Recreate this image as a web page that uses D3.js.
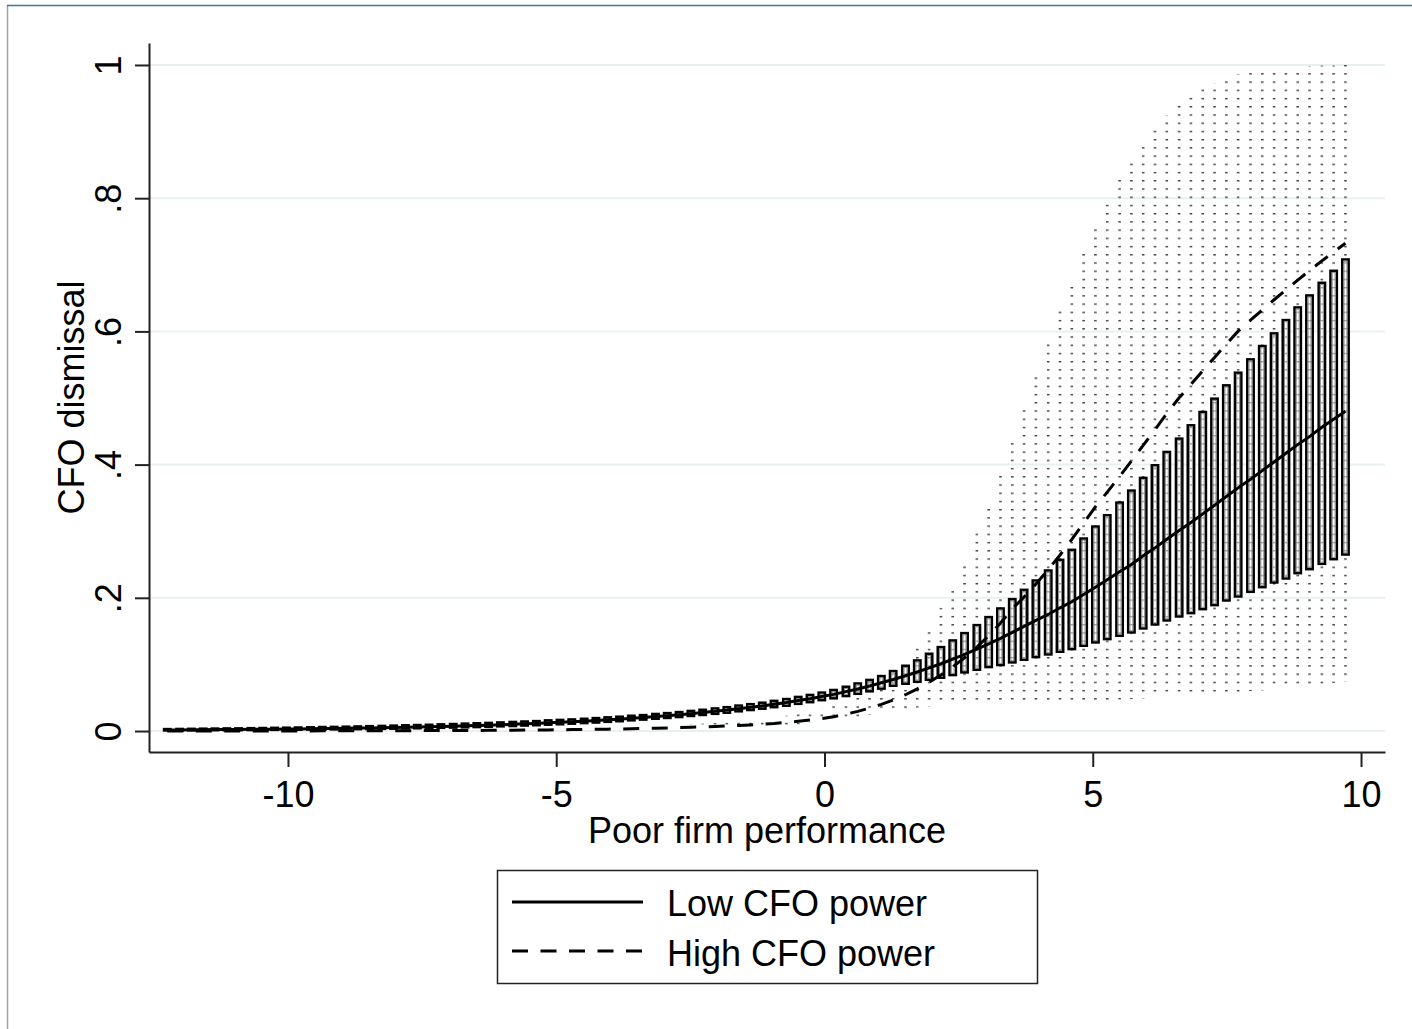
<!DOCTYPE html>
<html>
<head>
<meta charset="utf-8">
<title>CFO dismissal</title>
<script src="https://cdnjs.cloudflare.com/ajax/libs/d3/7.8.5/d3.min.js"></script>
<style>
  body { margin: 0; background: #fff; }
  text { font-family: "Liberation Sans", Arial, sans-serif; }
</style>
</head>
<body>
<svg id="chart" width="1412" height="1029"></svg>
<script>
// at() values of poor firm performance
const perf = [
  -12.25, -12.02, -11.80, -11.58, -11.36, -11.14, -10.92, -10.69, -10.47, -10.25,
  -10.03, -9.81, -9.58, -9.36, -9.14, -8.92, -8.70, -8.48, -8.25, -8.03,
  -7.81, -7.59, -7.37, -7.15, -6.92, -6.70, -6.48, -6.26, -6.04, -5.81,
  -5.59, -5.37, -5.15, -4.93, -4.71, -4.48, -4.26, -4.04, -3.82, -3.60,
  -3.38, -3.15, -2.93, -2.71, -2.49, -2.27, -2.04, -1.82, -1.60, -1.38,
  -1.16, -0.94, -0.71, -0.49, -0.27, -0.05, 0.17, 0.40, 0.62, 0.84,
  1.06, 1.28, 1.51, 1.73, 1.95, 2.17, 2.39, 2.61, 2.84, 3.06,
  3.28, 3.50, 3.72, 3.94, 4.17, 4.39, 4.61, 4.83, 5.05, 5.27,
  5.50, 5.72, 5.94, 6.16, 6.38, 6.61, 6.83, 7.05, 7.27, 7.49,
  7.71, 7.94, 8.16, 8.38, 8.60, 8.82, 9.04, 9.27, 9.49, 9.71
];

// Low CFO power: prediction and CI (bars)
const lowMean = [
  0.0016, 0.0017, 0.0018, 0.0019, 0.0021, 0.0022, 0.0023, 0.0025, 0.0026, 0.0028,
  0.0030, 0.0032, 0.0034, 0.0037, 0.0039, 0.0041, 0.0044, 0.0047, 0.0050, 0.0053,
  0.0057, 0.0061, 0.0064, 0.0069, 0.0073, 0.0078, 0.0083, 0.0088, 0.0095, 0.0101,
  0.0108, 0.0114, 0.0123, 0.0130, 0.0138, 0.0148, 0.0157, 0.0168, 0.0178, 0.0191,
  0.0202, 0.0217, 0.0230, 0.0244, 0.0261, 0.0277, 0.0296, 0.0314, 0.0336, 0.0356,
  0.0377, 0.0403, 0.0427, 0.0457, 0.0484, 0.0517, 0.0550, 0.0591, 0.0632, 0.0676,
  0.0724, 0.0773, 0.0829, 0.0886, 0.0947, 0.1010, 0.1078, 0.1150, 0.1228, 0.1309,
  0.139, 0.148, 0.157, 0.166, 0.175, 0.185, 0.194, 0.205, 0.216, 0.227,
  0.239, 0.250, 0.263, 0.275, 0.288, 0.301, 0.313, 0.326, 0.339, 0.352,
  0.365, 0.378, 0.391, 0.404, 0.417, 0.430, 0.442, 0.456, 0.468, 0.480
];
const lowLo = [
  0.0009, 0.0009, 0.0010, 0.0011, 0.0012, 0.0012, 0.0013, 0.0014, 0.0015, 0.0017,
  0.0018, 0.0019, 0.0021, 0.0022, 0.0024, 0.0026, 0.0028, 0.0030, 0.0033, 0.0035,
  0.0038, 0.0041, 0.0044, 0.0048, 0.0051, 0.0055, 0.0059, 0.0064, 0.0070, 0.0075,
  0.0082, 0.0087, 0.0095, 0.0101, 0.0110, 0.0119, 0.0127, 0.0138, 0.0147, 0.0160,
  0.0171, 0.0184, 0.0196, 0.0210, 0.0226, 0.0241, 0.0258, 0.0275, 0.0296, 0.0315,
  0.0335, 0.0358, 0.0380, 0.0408, 0.0433, 0.0463, 0.0491, 0.0525, 0.0559, 0.0596,
  0.0636, 0.068, 0.071, 0.074, 0.077, 0.080, 0.084, 0.088, 0.092, 0.096,
  0.099, 0.103, 0.107, 0.111, 0.115, 0.119, 0.123, 0.128, 0.133, 0.138,
  0.143, 0.148, 0.154, 0.160, 0.166, 0.172, 0.177, 0.183, 0.189, 0.196,
  0.202, 0.209, 0.216, 0.223, 0.229, 0.237, 0.243, 0.251, 0.258, 0.265
];
const lowHi = [
  0.0029, 0.0031, 0.0033, 0.0035, 0.0037, 0.0039, 0.0040, 0.0043, 0.0045, 0.0048,
  0.0050, 0.0053, 0.0056, 0.0060, 0.0062, 0.0065, 0.0069, 0.0073, 0.0077, 0.0081,
  0.0086, 0.0090, 0.0094, 0.0100, 0.0105, 0.0111, 0.0117, 0.0122, 0.0129, 0.0136,
  0.0143, 0.0149, 0.0160, 0.0167, 0.0174, 0.0184, 0.0194, 0.0205, 0.0215, 0.0229,
  0.0239, 0.0256, 0.0269, 0.0284, 0.0302, 0.0319, 0.0339, 0.0358, 0.0382, 0.0403,
  0.0425, 0.0453, 0.0480, 0.0512, 0.0542, 0.0577, 0.0616, 0.0665, 0.0714, 0.0767,
  0.0825, 0.090, 0.098, 0.106, 0.116, 0.126, 0.136, 0.147, 0.159, 0.171,
  0.184, 0.198, 0.212, 0.226, 0.241, 0.257, 0.272, 0.289, 0.307, 0.324,
  0.343, 0.361, 0.380, 0.399, 0.419, 0.439, 0.459, 0.479, 0.499, 0.519,
  0.538, 0.558, 0.578, 0.597, 0.617, 0.636, 0.654, 0.673, 0.691, 0.708
];

// High CFO power: prediction and CI (dotted area)
const highMean = [
  0.0001, 0.0001, 0.0001, 0.0001, 0.0001, 0.0001, 0.0001, 0.0001, 0.0002, 0.0002,
  0.0002, 0.0002, 0.0002, 0.0003, 0.0003, 0.0003, 0.0003, 0.0004, 0.0004, 0.0005,
  0.0005, 0.0006, 0.0006, 0.0007, 0.0008, 0.0009, 0.0009, 0.0010, 0.0012, 0.0013,
  0.0014, 0.0015, 0.0017, 0.0019, 0.0021, 0.0023, 0.0026, 0.0028, 0.0031, 0.0034,
  0.0038, 0.0042, 0.0046, 0.0051, 0.0056, 0.0062, 0.0069, 0.0076, 0.0084, 0.0092,
  0.0102, 0.0113, 0.0129, 0.0145, 0.0164, 0.0186, 0.0215, 0.0253, 0.0295, 0.0344,
  0.0400, 0.0466, 0.0545, 0.0633, 0.0734, 0.0842, 0.0963, 0.1100, 0.1259, 0.1431,
  0.1621, 0.1832, 0.2013, 0.2206, 0.2423, 0.2643, 0.2876, 0.3121, 0.3367, 0.3587,
  0.3822, 0.4054, 0.4290, 0.4526, 0.4768, 0.5003, 0.5205, 0.5409, 0.5609, 0.5808,
  0.6004, 0.6168, 0.6323, 0.6475, 0.6624, 0.6770, 0.6913, 0.7058, 0.7193, 0.7324
];
const highLo = [
  0, 0, 0, 0, 0, 0, 0, 0, 0, 0,
  0, 0, 0, 0, 0, 0, 0, 0, 0, 0,
  0, 0, 0, 0, 0, 0, 0, 0, 0, 0,
  0, 0, 0, 0, 0, 0, 0, 0, 0, 0,
  0, 0, 0, 0, 0, 0, 0.001, 0.002, 0.003, 0.004,
  0.005, 0.006, 0.008, 0.010, 0.012, 0.014, 0.016, 0.018, 0.021, 0.024,
  0.027, 0.030, 0.033, 0.035, 0.037, 0.039, 0.041, 0.042, 0.043, 0.044,
  0.044, 0.044, 0.044, 0.043, 0.042, 0.042, 0.043, 0.044, 0.045, 0.046,
  0.047, 0.048, 0.049, 0.050, 0.051, 0.052, 0.053, 0.054, 0.055, 0.057,
  0.058, 0.060, 0.061, 0.063, 0.065, 0.066, 0.068, 0.070, 0.072, 0.074
];
const highHi = [
  0.0003, 0.0003, 0.0003, 0.0003, 0.0004, 0.0004, 0.0004, 0.0005, 0.0005, 0.0006,
  0.0006, 0.0007, 0.0007, 0.0008, 0.0009, 0.0009, 0.0010, 0.0011, 0.0012, 0.0013,
  0.0014, 0.0016, 0.0017, 0.0019, 0.0020, 0.0022, 0.0024, 0.0026, 0.0029, 0.0031,
  0.0034, 0.0036, 0.0039, 0.0042, 0.0045, 0.0048, 0.0051, 0.0054, 0.0057, 0.0059,
  0.006, 0.007, 0.008, 0.009, 0.010, 0.011, 0.012, 0.013, 0.015, 0.016,
  0.018, 0.020, 0.023, 0.026, 0.030, 0.034, 0.039, 0.045, 0.053, 0.064,
  0.077, 0.090, 0.106, 0.127, 0.154, 0.185, 0.214, 0.254, 0.297, 0.340,
  0.389, 0.438, 0.487, 0.537, 0.586, 0.632, 0.675, 0.718, 0.758, 0.794,
  0.828, 0.857, 0.883, 0.906, 0.924, 0.941, 0.955, 0.966, 0.973, 0.980,
  0.986, 0.989, 0.992, 0.994, 0.996, 0.997, 0.998, 0.999, 0.999, 1.000
];

const yTicks = [0, 0.2, 0.4, 0.6, 0.8, 1];
const yTickLabels = ['0', '.2', '.4', '.6', '.8', '1'];
const xTicks = [-10, -5, 0, 5, 10];
const legendLabels = ['Low CFO power', 'High CFO power'];

const svg = d3.select('#chart');
const FONT = 36;
const LINE_W = 3;

const x = d3.scaleLinear().domain([-12.59, 10.447]).range([149, 1385]);
const y = d3.scaleLinear().domain([-0.0315, 1.033]).range([752, 43]);

// one record per at() point, so the index stays attached after filtering
const pts = perf.map((p, i) => ({
  p, lm: lowMean[i], ll: lowLo[i], lh: lowHi[i],
  hm: highMean[i], hl: highLo[i], hh: highHi[i]
}));

// outer frame (left / top edges)
svg.append('line').attr('x1', 7.5).attr('x2', 7.5).attr('y1', 5).attr('y2', 1029)
  .attr('stroke', '#a3a3a3').attr('stroke-width', 1.5);
svg.append('line').attr('x1', 7).attr('x2', 1412).attr('y1', 5.5).attr('y2', 5.5)
  .attr('stroke', '#45719e').attr('stroke-width', 1.5);

// patterns
const defs = svg.append('defs');
const rowGap = (y(0) - y(1)) / 81;
const dots = defs.append('pattern').attr('id', 'dots')
  .attr('patternUnits', 'userSpaceOnUse')
  .attr('x', 0).attr('y', y(1)).attr('width', 20).attr('height', rowGap);
dots.append('rect').attr('width', 20).attr('height', 1.4).attr('fill', '#404040');

const barfill = defs.append('pattern').attr('id', 'barfill')
  .attr('patternUnits', 'userSpaceOnUse')
  .attr('x', 0).attr('y', y(1)).attr('width', 20).attr('height', rowGap);
barfill.append('rect').attr('width', 20).attr('height', rowGap).attr('fill', '#fff');
barfill.append('rect').attr('width', 20).attr('height', 1.3).attr('fill', '#9a9a9a');

// gridlines
svg.append('g').selectAll('line').data(yTicks).join('line')
  .attr('x1', 149).attr('x2', 1385)
  .attr('y1', d => y(d)).attr('y2', d => y(d))
  .attr('stroke', '#e9f0f2').attr('stroke-width', 2);

// High CFO power CI: dotted columns
svg.append('g').selectAll('rect').data(pts).join('rect')
  .attr('x', d => x(d.p) - 1.3).attr('width', 2.6)
  .attr('y', d => y(d.hh))
  .attr('height', d => Math.max(0, y(d.hl) - y(d.hh)))
  .attr('fill', 'url(#dots)');

// Low CFO power CI: bars
const bars = svg.append('g').selectAll('g').data(pts).join('g');
bars.append('rect')
  .attr('x', d => x(d.p) - 3.2).attr('width', 6.4)
  .attr('y', d => y(d.lh))
  .attr('height', d => y(d.ll) - y(d.lh))
  .attr('fill', 'url(#barfill)')
  .attr('stroke', '#000').attr('stroke-width', 2.5);
bars.filter(d => y(d.ll) - y(d.lh) > 4).append('rect')
  .attr('x', d => x(d.p) - 1.45).attr('width', 2.9)
  .attr('y', d => y(d.lh) + 1.75)
  .attr('height', d => y(d.ll) - y(d.lh) - 3.5)
  .attr('fill', 'none')
  .attr('stroke', '#8c8c8c').attr('stroke-width', 1);

// prediction lines
const lineOf = key => d3.line().x(d => x(d.p)).y(d => y(d[key]))(pts);
svg.append('path').attr('d', lineOf('lm'))
  .attr('fill', 'none').attr('stroke', '#000').attr('stroke-width', LINE_W);
svg.append('path').attr('d', lineOf('hm'))
  .attr('fill', 'none').attr('stroke', '#000').attr('stroke-width', LINE_W)
  .attr('stroke-dasharray', '16,12.5');

// axes
const yAxis = svg.append('g').attr('transform', 'translate(149,0)')
  .call(d3.axisLeft(y).tickValues(yTicks).tickSize(14).tickSizeOuter(0)
    .tickFormat((d, i) => yTickLabels[i]));
yAxis.attr('font-size', FONT).attr('font-family', '"Liberation Sans", Arial, sans-serif').attr('color', '#000');
yAxis.select('.domain').attr('stroke', '#222').attr('stroke-width', 2);
yAxis.selectAll('.tick line').attr('stroke', '#222').attr('stroke-width', 2);
yAxis.selectAll('.tick text')
  .attr('x', 0).attr('dy', null)
  .attr('text-anchor', 'middle')
  .attr('transform', 'translate(-28,0) rotate(-90)');

const xAxis = svg.append('g').attr('transform', 'translate(0,752)')
  .call(d3.axisBottom(x).tickValues(xTicks).tickSize(15).tickSizeOuter(0)
    .tickFormat(d => String(d)));
xAxis.attr('font-size', FONT).attr('font-family', '"Liberation Sans", Arial, sans-serif').attr('color', '#000');
xAxis.select('.domain').attr('stroke', '#222').attr('stroke-width', 2);
xAxis.selectAll('.tick line').attr('stroke', '#222').attr('stroke-width', 2);
xAxis.selectAll('.tick text').attr('y', 55).attr('dy', null);

// axis titles
svg.append('text').attr('x', 767).attr('y', 843)
  .attr('text-anchor', 'middle').attr('font-size', FONT)
  .text('Poor firm performance');
svg.append('text').attr('transform', 'translate(84,397.5) rotate(-90)')
  .attr('text-anchor', 'middle').attr('font-size', FONT)
  .text('CFO dismissal');

// legend
const legend = svg.append('g');
legend.append('rect').attr('x', 497.5).attr('y', 870.5).attr('width', 540).attr('height', 113)
  .attr('fill', '#fff').attr('stroke', '#222').attr('stroke-width', 1.5);
const rows = legend.selectAll('g.row').data(legendLabels).join('g').attr('class', 'row');
rows.append('line')
  .attr('x1', 512).attr('x2', 643)
  .attr('y1', (d, i) => 902 + i * 49).attr('y2', (d, i) => 902 + i * 49)
  .attr('stroke', '#000').attr('stroke-width', LINE_W)
  .attr('stroke-dasharray', (d, i) => i === 1 ? '16,12.5' : null);
rows.append('text')
  .attr('x', 667).attr('y', (d, i) => 916 + i * 50)
  .attr('font-size', FONT)
  .text(d => d);
</script>
</body>
</html>
